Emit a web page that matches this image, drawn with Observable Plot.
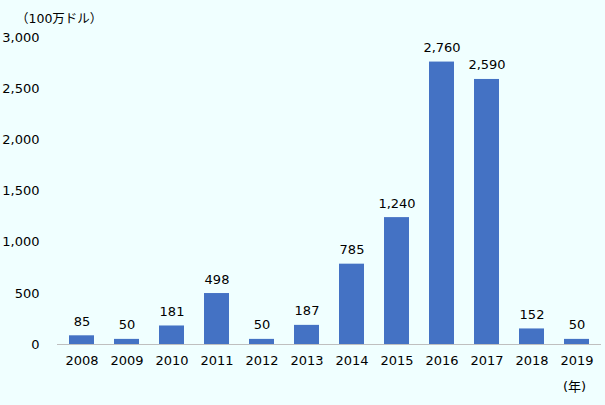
<!DOCTYPE html>
<html><head><meta charset="utf-8">
<script src="https://cdn.jsdelivr.net/npm/d3@7"></script>
<script src="https://cdn.jsdelivr.net/npm/@observablehq/plot@0.6"></script>
<style>
html,body{margin:0;padding:0;background:#F0FFFF;}
#wrap{position:relative;width:605px;height:405px;font-family:"DejaVu Sans","Noto Sans CJK JP",sans-serif;font-size:13px;color:#000;}
.note{position:absolute;white-space:nowrap;}
</style></head>
<body>
<div id="wrap">
<div class="note" style="left:16px;top:8px;font-size:12.5px;">（100万ドル）</div>
<div class="note" style="left:563px;top:376px;">(年)</div>
</div>
<script>
const years = ["2008","2009","2010","2011","2012","2013","2014","2015","2016","2017","2018","2019"];
const values = [85,50,181,498,50,187,785,1240,2760,2590,152,50];
const yTicks = [0,500,1000,1500,2000,2500,3000];
const data = years.map((y,i)=>({year:y,value:values[i]}));
const fmt = d3.format(",");
const chart = Plot.plot({
  width:605, height:405,
  marginTop:37, marginBottom:61, marginLeft:57, marginRight:4,
  style:{background:"transparent", fontFamily:'"DejaVu Sans","Noto Sans CJK JP",sans-serif', fontSize:"13px", color:"#000"},
  x:{domain:years, paddingInner:0.45, paddingOuter:0.225, label:null, tickSize:0, tickPadding:11},
  y:{domain:[0,3000], ticks:yTicks, tickFormat:fmt, label:null, tickSize:0, tickPadding:18},
  marks:[
    Plot.barY(data,{x:"year", y:"value", fill:"#4472C4"}),
    Plot.ruleY([0],{stroke:"#BFBFBF"}),
    Plot.text(data,{x:"year", y:"value", text:d=>fmt(d.value), dy:-10, lineAnchor:"bottom", fill:"#000"})
  ]
});
chart.style.position="absolute"; chart.style.left="0"; chart.style.top="0";
document.getElementById("wrap").prepend(chart);
</script>
</body></html>
